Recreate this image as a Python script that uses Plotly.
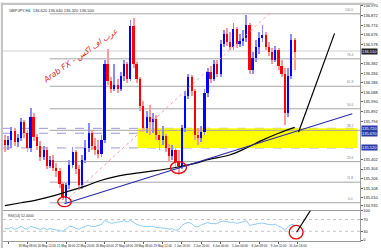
import plotly.graph_objects as go

# ---------------- data ----------------
opens  = [135.60,135.55,135.60,135.69,135.58,135.62,135.78,135.67,135.52,135.84,
          135.63,135.54,135.43,135.50,135.34,135.40,135.32,135.28,135.15,135.01,
          135.14,135.35,135.48,135.30,135.14,135.40,135.52,135.67,135.54,135.50,
          135.46,135.60,136.38,136.20,136.12,136.16,136.12,136.25,136.38,136.22,
          136.77,136.38,136.22,135.95,135.72,135.84,135.78,135.82,135.65,135.60,
          135.64,135.52,135.44,135.50,135.38,135.34,135.72,136.05,136.24,136.10,
          135.65,135.62,135.68,136.08,136.30,136.22,136.38,136.28,136.58,136.68,
          136.60,136.55,136.74,136.58,136.61,136.64,136.78,136.32,136.44,136.55,
          136.64,136.67,136.55,136.50,136.42,136.52,136.36,136.28,135.88,136.25,
          136.62]
highs  = [135.65,135.64,135.73,135.72,135.66,135.83,135.81,135.70,135.93,135.88,
          135.66,135.59,135.54,135.53,135.44,135.45,135.37,135.32,135.17,135.16,
          135.40,135.53,135.50,135.35,135.45,135.60,135.77,135.70,135.62,135.60,
          135.65,136.42,136.53,136.24,136.38,136.22,136.30,136.42,136.40,136.83,
          136.85,136.40,136.24,136.00,135.90,135.96,135.88,135.86,135.70,135.74,
          135.66,135.56,135.55,135.52,135.50,135.75,136.10,136.28,136.26,136.12,
          135.72,135.74,136.12,136.34,136.36,136.42,136.42,136.62,136.72,136.75,
          136.70,136.80,136.76,136.68,136.72,136.88,136.80,136.50,136.62,136.70,
          136.78,136.70,136.60,136.54,136.56,136.54,136.42,136.34,136.34,136.68,
          136.64]
lows   = [135.48,135.50,135.52,135.54,135.53,135.59,135.62,135.48,135.48,135.59,
          135.50,135.39,135.40,135.30,135.31,135.28,135.22,135.11,134.99,134.96,
          135.10,135.32,135.25,135.09,135.10,135.37,135.48,135.50,135.45,135.42,
          135.43,135.57,136.16,136.08,136.10,136.08,136.10,136.20,136.18,136.20,
          136.34,136.18,135.90,135.68,135.67,135.65,135.67,135.60,135.50,135.55,
          135.48,135.38,135.40,135.32,135.24,135.30,135.68,136.02,136.05,135.60,
          135.55,135.58,135.65,136.04,136.18,136.20,136.24,136.24,136.55,136.56,
          136.52,136.52,136.54,136.55,136.56,136.60,136.28,136.28,136.40,136.48,
          136.60,136.52,136.46,136.38,136.40,136.32,136.24,135.75,135.84,136.22,
          136.32]
closes = [135.55,135.60,135.69,135.58,135.62,135.78,135.67,135.52,135.84,135.63,
          135.54,135.43,135.50,135.34,135.40,135.32,135.28,135.15,135.01,135.14,
          135.35,135.48,135.30,135.14,135.40,135.52,135.67,135.54,135.50,135.46,
          135.60,136.38,136.20,136.12,136.16,136.12,136.25,136.38,136.22,136.77,
          136.38,136.22,135.95,135.72,135.84,135.78,135.82,135.65,135.60,135.64,
          135.52,135.44,135.50,135.38,135.34,135.72,136.05,136.24,136.10,135.65,
          135.62,135.68,136.08,136.30,136.22,136.38,136.28,136.58,136.68,136.60,
          136.55,136.74,136.58,136.61,136.64,136.78,136.32,136.44,136.55,136.64,
          136.67,136.55,136.50,136.42,136.52,136.36,136.28,135.88,136.25,136.62,
          136.50]
rsi = [40,38,43,37,40,47,40,37,47,43,40,36,42,36,39,36,34,33,30,37,
       47,46,40,37,43,47,50,46,46,49,53,67,63,57,59,60,63,66,62,67,
       60,53,50,46,47,46,47,43,42,43,40,37,39,33,36,50,57,60,56,46,
       45,52,57,60,56,57,56,63,65,63,60,61,57,59,62,66,50,53,56,57,
       58,55,53,52,54,47,43,33,47,53,52]

ma_idx = [0,5,10,15,19,25,30,38,45,53,60,63,70,75,80,85,90]
ma_val = [134.93,134.96,134.99,135.03,135.07,135.13,135.19,135.25,135.28,135.32,
          135.37,135.40,135.45,135.52,135.60,135.67,135.73]

x_tick_pos = [1,7,13,19,25,31,37,43,49,55,61,67,73,79,85,91]
x_tick_txt = ["18 May 2020","19 May 08:00","20 May 12:00","21 May 16:00","22 May 20:00",
              "26 May 00:00","27 May 04:00","28 May 08:00","29 May 12:00","1 Jun 16:00",
              "2 Jun 20:00","4 Jun 00:00","5 Jun 04:00","8 Jun 08:00","9 Jun 12:00",
              "10 Jun 16:00"]
y_tick_val = [136.970,136.872,136.774,136.676,136.578,136.382,136.284,136.186,136.088,
              135.990,135.892,135.794,135.402,135.304,135.206,135.108,135.010,134.935]

zone_levels = [135.72, 135.67, 135.52]       # dashed support lines
fib_levels  = [136.89,136.43,136.15,135.92,135.70,135.38,135.17,134.96]
fib_names   = ["100.0","76.4","61.8","50.0","38.2","23.6","11.8","0.0"]
bid_price   = 136.51

trend_blue  = ([18.5,107.9],[134.95,135.87])
trend_steep = ([91.2,102.4],[135.68,136.69])
fib_diag    = ([18.5,82.4],[134.97,136.90])
rsi_line    = ([90.6,96.4],[26.7,126.7])

idx = list(range(len(opens)))

# ---------------- figure ----------------
BULL, BEAR = "#0000ff", "#ff0000"
BULLW, BEARW = "#8c8cff", "#ff9a9a"
up = [c >= o for o, c in zip(opens, closes)]

fig = go.Figure()
fig.add_trace(go.Bar(x=idx, y=[h - l for h, l in zip(highs, lows)], base=lows,
                     width=0.28, marker=dict(color=[BULLW if u else BEARW for u in up], line_width=0),
                     xaxis="x", yaxis="y", showlegend=False, hoverinfo="skip"))
fig.add_trace(go.Bar(x=idx, y=[max(abs(c - o), 0.012) for o, c in zip(opens, closes)],
                     base=[min(o, c) for o, c in zip(opens, closes)],
                     width=0.62, marker=dict(color=[BULL if u else BEAR for u in up], line_width=0),
                     xaxis="x", yaxis="y", showlegend=False))
fig.add_trace(go.Scatter(x=ma_idx, y=ma_val, mode="lines", line=dict(color="black", width=1.2),
                         xaxis="x", yaxis="y", showlegend=False, line_shape="spline"))
fig.add_trace(go.Scatter(x=trend_blue[0], y=trend_blue[1], mode="lines",
                         line=dict(color="#2a2aa8", width=1.1), xaxis="x", yaxis="y", showlegend=False))
fig.add_trace(go.Scatter(x=trend_steep[0], y=trend_steep[1], mode="lines",
                         line=dict(color="black", width=1.2), xaxis="x", yaxis="y", showlegend=False))
fig.add_trace(go.Scatter(x=fib_diag[0], y=fib_diag[1], mode="lines",
                         line=dict(color="#ff8a8a", width=0.8, dash="dot"), xaxis="x", yaxis="y", showlegend=False))
fig.add_trace(go.Scatter(x=idx, y=rsi, mode="lines", line=dict(color="#8fcdf5", width=1),
                         xaxis="x2", yaxis="y2", showlegend=False))

shapes = []
# yellow zone
shapes.append(dict(type="rect", xref="x", yref="y", x0=41.2, x1=109.4, y0=zone_levels[2], y1=zone_levels[0],
                   fillcolor="#ffff00", line_width=0, layer="below"))
for lv in zone_levels:
    shapes.append(dict(type="line", xref="paper", yref="y", x0=0, x1=1, y0=lv, y1=lv,
                       line=dict(color="#9a9ad8", width=1, dash="dash"), layer="below"))
for lv in fib_levels:
    shapes.append(dict(type="line", xref="x", yref="y", x0=13.9, x1=110.3, y0=lv, y1=lv,
                       line=dict(color="#a6a6a6", width=1), layer="below"))
shapes.append(dict(type="line", xref="paper", yref="y", x0=0, x1=1, y0=bid_price, y1=bid_price,
                   line=dict(color="#d0d0d0", width=1), layer="below"))
# ellipses
shapes.append(dict(type="circle", xref="x", yref="y", x0=16.4, x1=20.6, y0=134.92, y1=135.02,
                   line=dict(color="#e01010", width=1.4)))
shapes.append(dict(type="circle", xref="x", yref="y", x0=51.4, x1=56.4, y0=135.26, y1=135.38,
                   line=dict(color="#e01010", width=1.4)))
shapes.append(dict(type="circle", xref="x2", yref="y2", x0=88.3, x1=92.6, y0=4, y1=50,
                   line=dict(color="#e01010", width=1.4)))
# rsi dotted levels
for lv in [70, 30]:
    shapes.append(dict(type="line", xref="paper", yref="y2", x0=0, x1=1, y0=lv, y1=lv,
                       line=dict(color="#b4b4b4", width=0.8, dash="dot"), layer="below"))
# rsi black line
shapes.append(dict(type="line", xref="x2", yref="y2", x0=rsi_line[0][0], x1=rsi_line[0][1],
                   y0=rsi_line[1][0], y1=rsi_line[1][1], line=dict(color="black", width=1.2)))
# window frame (gray bands)
shapes.append(dict(type="rect", xref="paper", yref="paper", x0=-0.006, x1=0, y0=-0.03, y1=1.01,
                   fillcolor="#c4c4c4", line_width=0))
shapes.append(dict(type="rect", xref="paper", yref="paper", x0=-0.006, x1=1.04, y0=1.0, y1=1.01,
                   fillcolor="#c4c4c4", line_width=0))

ann = []
F = "Liberation Sans"
ann.append(dict(xref="paper", yref="paper", x=0.01, y=0.995, xanchor="left", yanchor="top",
                text="GBPJPY,H4  136.620 136.640 136.320 136.500", showarrow=False,
                font=dict(size=4, color="#333333", family=F)))
ann.append(dict(xref="x", yref="y", x=23.6, y=136.46, text="Arab FX - عرب اف اكس", textangle=-35,
                showarrow=False, font=dict(size=8, color="#e02828", family="DejaVu Sans", style="italic")))
for lv, nm in zip(fib_levels, fib_names):
    ann.append(dict(xref="x", yref="y", x=108.9, y=lv, text=nm, xanchor="right", yanchor="bottom",
                    showarrow=False, font=dict(size=3.2, color="#808080", family=F)))
for lv in zone_levels:
    ann.append(dict(xref="paper", yref="y", x=1.003, y=lv, text=f"{lv:.3f}", xanchor="left",
                    showarrow=False, bgcolor="#2a3aa8", borderpad=0,
                    font=dict(size=4, color="white", family=F)))
ann.append(dict(xref="paper", yref="y", x=1.003, y=bid_price, text=f"{bid_price:.3f}", xanchor="left",
                showarrow=False, bgcolor="#202020", borderpad=0, font=dict(size=4, color="white", family=F)))
ann.append(dict(xref="paper", yref="y2", x=0.008, y=97, text="RSI(14) 52.0000", xanchor="left",
                yanchor="top", showarrow=False, font=dict(size=3.5, color="#333333", family=F)))

fig.update_layout(
    width=381, height=250, margin=dict(l=2, r=13, t=2, b=7),
    paper_bgcolor="white", plot_bgcolor="white", barmode="overlay", bargap=0,
    shapes=shapes, annotations=ann, showlegend=False,
    font=dict(family=F, size=4, color="black"),
    xaxis=dict(domain=[0, 1], anchor="y", range=[-0.6, 110.3], showticklabels=False, showgrid=False,
               zeroline=False, showline=True, mirror=True, linecolor="#9c9c9c", linewidth=1, ticks=""),
    yaxis=dict(domain=[0.133, 1], anchor="x", side="right", range=[134.89, 136.98], tickvals=y_tick_val,
               ticktext=[f"{v:.3f}" for v in y_tick_val], showgrid=False, zeroline=False,
               showline=True, mirror=True, linecolor="#9c9c9c", linewidth=1, ticks="outside",
               ticklen=1.5, tickcolor="#606060", tickfont=dict(size=4, color="#202020")),
    xaxis2=dict(domain=[0, 1], anchor="y2", matches="x", range=[-0.6, 110.3], tickvals=x_tick_pos,
                ticktext=x_tick_txt, tickangle=0, showgrid=False, zeroline=False, showline=True,
                mirror=True, linecolor="#9c9c9c", linewidth=1, ticks="outside", ticklen=1.5,
                tickcolor="#606060", tickfont=dict(size=3, color="#202020")),
    yaxis2=dict(domain=[0, 0.128], anchor="x2", side="right", range=[-3.3, 100], tickvals=[100, 70, 30, 0],
                ticktext=["100", "70", "30", "0"], showgrid=False, zeroline=False, showline=True, mirror=True,
                linecolor="#9c9c9c", linewidth=1, ticks="outside", ticklen=1.5, tickcolor="#606060",
                tickfont=dict(size=4, color="#202020")),
)

fig.write_html("out.html")
